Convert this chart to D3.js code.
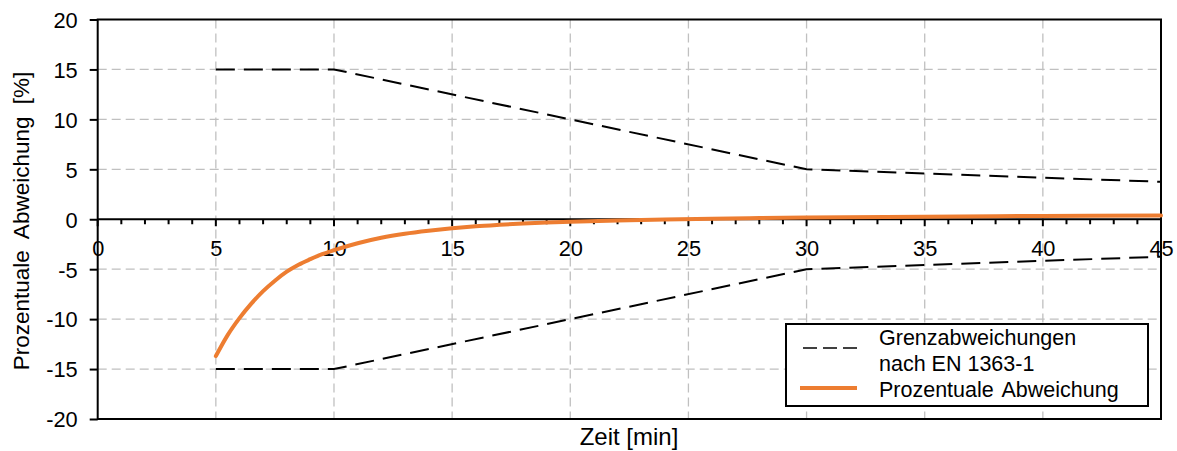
<!DOCTYPE html>
<html><head><meta charset="utf-8">
<script src="https://cdn.jsdelivr.net/npm/d3@7"></script>
<style>body{margin:0;background:#fff}svg{display:block}text{font-family:"Liberation Sans",Arial,sans-serif;fill:#000}</style>
</head><body>
<svg id="c" width="1177" height="451"></svg>
<script>
const limitT = [5, 10, 30, 45];
const limitUpper = [15, 15, 5, 3.75];
const limitLower = [-15, -15, -5, -3.75];
const devT = [5, 5.5, 6, 6.5, 7, 7.5, 8, 8.5, 9, 9.5, 10, 11, 12, 13, 14, 15, 16, 17, 18, 19, 20, 22, 24, 26, 28, 30, 35, 40, 45];
const devV = [-13.7, -11.6, -9.9, -8.45, -7.2, -6.15, -5.25, -4.55, -4.0, -3.5, -3.1, -2.4, -1.85, -1.45, -1.15, -0.9, -0.7, -0.55, -0.42, -0.32, -0.24, -0.12, -0.03, 0.05, 0.12, 0.17, 0.26, 0.33, 0.38];
const xTicks = [0, 5, 10, 15, 20, 25, 30, 35, 40, 45];
const yTicks = [-20, -15, -10, -5, 0, 5, 10, 15, 20];
const legendLabels = [["Grenzabweichungen", "nach EN 1363-1"], ["Prozentuale Abweichung"]];
const xTitle = "Zeit [min]";
const yTitle = "Prozentuale Abweichung [%]";

const svg = d3.select("#c");
const L = 97.7, R = 1161, T = 19.5, B = 419;
const FS = 21.8;
const x = d3.scaleLinear().domain([0, 45]).range([L, R]);
const y = d3.scaleLinear().domain([-20, 20]).range([B, T]);
const gridC = "#c0c0c0";

// grid
svg.append("g").selectAll("line").data(xTicks.filter(d => d > 0 && d < 45)).join("line")
  .attr("x1", d => x(d)).attr("x2", d => x(d)).attr("y1", T).attr("y2", B)
  .attr("stroke", gridC).attr("stroke-width", 1.3).attr("stroke-dasharray", "9,5");
svg.append("g").selectAll("line").data(yTicks.filter(d => d !== 0 && Math.abs(d) < 20)).join("line")
  .attr("x1", L).attr("x2", R).attr("y1", d => y(d)).attr("y2", d => y(d))
  .attr("stroke", gridC).attr("stroke-width", 1.3).attr("stroke-dasharray", "9,5");

// frame
svg.append("rect").attr("x", L).attr("y", T).attr("width", R - L).attr("height", B - T)
  .attr("fill", "none").attr("stroke", "#000").attr("stroke-width", 2);

// y axis
const yAxis = d3.axisLeft(y).tickValues(yTicks).tickSize(8).tickPadding(12).tickFormat(d => String(d));
const gy = svg.append("g").attr("transform", `translate(${L},0)`).call(yAxis);
gy.select(".domain").remove();
gy.selectAll(".tick line").attr("stroke", "#000").attr("stroke-width", 2);
gy.selectAll(".tick text").attr("font-size", FS).attr("dy", "0.36em");

// x axis at zero
const minor = d3.range(0, 46, 1);
const gx = svg.append("g").attr("transform", `translate(0,${y(0)})`);
gx.append("line").attr("x1", L).attr("x2", R).attr("stroke", "#000").attr("stroke-width", 2);
gx.selectAll("line.t").data(minor).join("line").attr("class", "t")
  .attr("x1", d => x(d)).attr("x2", d => x(d)).attr("y1", 0).attr("y2", d => d % 5 === 0 ? 7 : 5)
  .attr("stroke", "#000").attr("stroke-width", 2);
const xAxis = d3.axisBottom(x).tickValues(xTicks).tickSize(0).tickPadding(21.5).tickFormat(d => String(d));
const gx2 = svg.append("g").attr("transform", `translate(0,${y(0)})`).call(xAxis);
gx2.select(".domain").remove();
gx2.selectAll(".tick text").attr("font-size", FS);

// limit lines
const line = d3.line().x(d => x(d[0])).y(d => y(d[1]));
[limitUpper, limitLower].forEach(arr => {
  svg.append("path").datum(limitT.map((t, i) => [t, arr[i]])).attr("d", line)
    .attr("fill", "none").attr("stroke", "#000").attr("stroke-width", 2).attr("stroke-dasharray", "19,9");
});

// deviation curve
const curve = d3.line().x(d => x(d[0])).y(d => y(d[1])).curve(d3.curveMonotoneX);
svg.append("path").datum(devT.map((t, i) => [t, devV[i]])).attr("d", curve)
  .attr("fill", "none").attr("stroke", "#ed7d31").attr("stroke-width", 4).attr("stroke-linecap", "round");

// titles
svg.append("text").attr("x", 629).attr("y", 445).attr("text-anchor", "middle").attr("font-size", 24).text(xTitle);
svg.append("text").attr("transform", `translate(29,221) rotate(-90)`).attr("text-anchor", "middle")
  .attr("font-size", 22.5).attr("word-spacing", 6).text(yTitle);

// legend
const lg = svg.append("g");
lg.append("rect").attr("x", 786).attr("y", 324).attr("width", 362).attr("height", 82)
  .attr("fill", "#fff").attr("stroke", "#000").attr("stroke-width", 2);
lg.append("line").attr("x1", 803).attr("x2", 857).attr("y1", 348).attr("y2", 348)
  .attr("stroke", "#404040").attr("stroke-width", 2).attr("stroke-dasharray", "14,6");
lg.append("line").attr("x1", 800).attr("x2", 857).attr("y1", 388).attr("y2", 388)
  .attr("stroke", "#ed7d31").attr("stroke-width", 4);
lg.append("text").attr("x", 879).attr("y", 345).attr("font-size", 21.5).text(legendLabels[0][0]);
lg.append("text").attr("x", 879).attr("y", 371).attr("font-size", 21.5).text(legendLabels[0][1]);
lg.append("text").attr("x", 879).attr("y", 397).attr("font-size", 21.5).attr("word-spacing", 3).text(legendLabels[1][0]);
</script>
</body></html>
